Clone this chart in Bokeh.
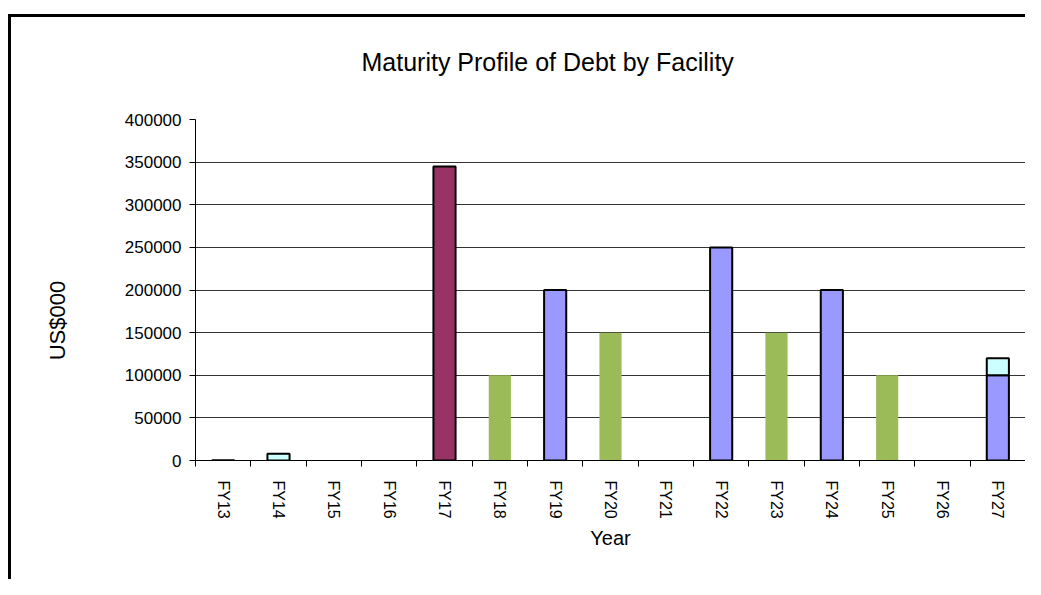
import math
from bokeh.plotting import figure
from bokeh.models import (ColumnDataSource, FixedTicker, Legend, LegendItem,
                          NumeralTickFormatter, InlineStyleSheet)
from bokeh.embed import file_html
from bokeh.resources import INLINE

# ---------------- data ----------------
years = ["FY13", "FY14", "FY15", "FY16", "FY17", "FY18", "FY19", "FY20",
         "FY21", "FY22", "FY23", "FY24", "FY25", "FY26", "FY27"]
private_placement = [0, 0, 0, 0, 0, 0, 200000, 0, 0, 250000, 0, 200000, 0, 0, 100000]
bank_debt = [0, 0, 0, 0, 345000, 0, 0, 0, 0, 0, 0, 0, 0, 0, 0]
leases = [400, 8000, 0, 0, 0, 0, 0, 0, 0, 0, 0, 0, 0, 0, 20000]
new_private_placement = [0, 0, 0, 0, 0, 100000, 0, 150000, 0, 0, 150000, 0, 100000, 0, 0]
series_names = ["Private Placement", "Bank Debt", "Leases", "New Private Placement"]
y_ticks = [0, 50000, 100000, 150000, 200000, 250000, 300000, 350000, 400000]

series_values = [private_placement, bank_debt, leases, new_private_placement]
colors = ["#9999FF", "#993366", "#CCFFFF", "#9BBB59"]
outlines = ["black", "black", "black", None]

FONT = "Liberation Sans"

p = figure(width=1025, height=579, frame_width=830, frame_height=341,
           x_range=(0, len(years)), y_range=(0, 400000),
           output_backend="svg", toolbar_location=None,
           min_border_left=195, min_border_right=0, min_border_top=119,
           min_border_bottom=100)
p.outline_line_color = None
p.background_fill_color = "white"
p.border_fill_color = "white"

# outer chart frame (thick black top/left edges)
p.stylesheets = [InlineStyleSheet(css="""
:host::after { content: ""; position: absolute; left: 8px; top: 14px;
  width: 1017px; height: 565px; border-left: 3px solid black;
  border-top: 3px solid black; pointer-events: none; box-sizing: border-box; }
""")]

# title
p.title.text = "Maturity Profile of Debt by Facility"
p.title.align = "left"
p.title.offset = 166
p.title.standoff = 88
p.title.text_font = FONT
p.title.text_font_size = "25px"
p.title.text_font_style = "normal"
p.title.text_color = "black"

# bars (stacked, zero segments skipped)
centers = [i + 0.5 for i in range(len(years))]
running = [0.0] * len(years)
items = []
for name, vals, col, oc in zip(series_names, series_values, colors, outlines):
    xs, bots, tops = [], [], []
    for i, v in enumerate(vals):
        if v > 0:
            xs.append(centers[i])
            bots.append(running[i])
            tops.append(running[i] + v)
            running[i] += v
    src = ColumnDataSource(dict(x=xs, bottom=bots, top=tops))
    r = p.vbar(x="x", bottom="bottom", top="top", width=0.4, source=src,
               fill_color=col, line_color=oc, line_width=2)
    items.append(LegendItem(label=name, renderers=[r]))

# grid
p.xgrid.visible = False
p.ygrid.ticker = FixedTicker(ticks=y_ticks)
p.ygrid.grid_line_color = "#333333"
p.ygrid.grid_line_width = 1

# y axis
p.yaxis.ticker = FixedTicker(ticks=y_ticks)
p.yaxis.formatter = NumeralTickFormatter(format="0")
p.yaxis.axis_line_color = "black"
p.yaxis.major_tick_line_color = "black"
p.yaxis.major_tick_out = 6
p.yaxis.major_tick_in = 0
p.yaxis.minor_tick_line_color = None
p.yaxis.major_label_standoff = 8
p.yaxis.major_label_text_font = FONT
p.yaxis.major_label_text_font_size = "17px"
p.yaxis.major_label_text_color = "black"
p.yaxis.axis_label = "US$000" + "\u00a0" * 10
p.yaxis.axis_label_text_font = FONT
p.yaxis.axis_label_text_font_size = "22px"
p.yaxis.axis_label_text_font_style = "normal"
p.yaxis.axis_label_text_color = "black"
p.yaxis.axis_label_standoff = 52

# x axis
p.xaxis.ticker = FixedTicker(ticks=centers, minor_ticks=list(range(len(years) + 1)))
p.xaxis.major_label_overrides = {c: y for c, y in zip(centers, years)}
p.xaxis.major_tick_line_color = None
p.xaxis.major_tick_out = 0
p.xaxis.major_tick_in = 0
p.xaxis.minor_tick_line_color = "black"
p.xaxis.minor_tick_out = 6
p.xaxis.minor_tick_in = 0
p.xaxis.axis_line_color = "black"
p.xaxis.major_label_orientation = -math.pi / 2
p.xaxis.major_label_standoff = 14
p.xaxis.major_label_text_font = FONT
p.xaxis.major_label_text_font_size = "16px"
p.xaxis.major_label_text_color = "black"
p.xaxis.axis_label = "Year"
p.xaxis.axis_label_text_font = FONT
p.xaxis.axis_label_text_font_size = "20px"
p.xaxis.axis_label_text_font_style = "normal"
p.xaxis.axis_label_text_color = "black"
p.xaxis.axis_label_standoff = 5

legend = Legend(items=items, orientation="horizontal", location=(78, 1),
                label_text_font=FONT, label_text_font_size="14px",
                label_text_color="black", glyph_width=8, glyph_height=8,
                label_standoff=2, spacing=22, padding=4, margin=0,
                label_height=16,
                border_line_color="black", border_line_width=1,
                background_fill_color="white", background_fill_alpha=1)
p.add_layout(legend, "below")

open("out.html", "w").write(file_html(p, INLINE))
